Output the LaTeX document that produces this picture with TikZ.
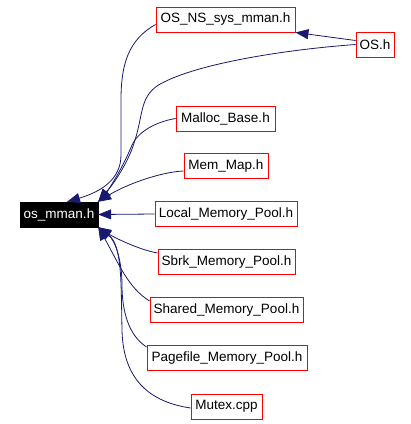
\documentclass[tikz,border=0pt]{standalone}
\usepackage{fontspec}
\setmainfont{Liberation Sans}
\usetikzlibrary{arrows.meta,calc}
\definecolor{edgeblue}{HTML}{191970}
\tikzset{
  filebox/.style={draw=red, line width=0.9pt, fill=white, minimum height=25pt, inner sep=0pt,
    font=\fontsize{13.5}{15}\selectfont, text=black},
  curbox/.style={draw=black, fill=black, minimum height=25pt, inner sep=0pt,
    font=\fontsize{13.5}{15}\selectfont, text=white},
  dep/.style={draw=edgeblue, line width=0.8pt, -{Triangle[length=13pt,width=10pt]}}
}
\begin{document}
\begin{tikzpicture}[x=1pt,y=-1pt]
\useasboundingbox (0,0) rectangle (411,424);
\node[curbox, minimum width=78pt] (m) at (59,214.5) {os\_mman.h};
\node[filebox, minimum width=139pt] (osns) at (225.5,19.5) {OS\_NS\_sys\_mman.h};
\node[filebox, minimum width=38pt] (os) at (375,44.5) {OS.h};
\node[filebox, minimum width=99pt] (malloc) at (225.5,118.5) {Malloc\_Base.h};
\node[filebox, minimum width=84pt] (memmap) at (226,166) {Mem\_Map.h};
\node[filebox, minimum width=142pt] (local) at (226,214) {Local\_Memory\_Pool.h};
\node[filebox, minimum width=137pt] (sbrk) at (226.5,262) {Sbrk\_Memory\_Pool.h};
\node[filebox, minimum width=153pt] (shared) at (226.5,310) {Shared\_Memory\_Pool.h};
\node[filebox, minimum width=160pt] (pagefile) at (227,358) {Pagefile\_Memory\_Pool.h};
\node[filebox, minimum width=71pt] (mutex) at (226.5,406.5) {Mutex.cpp};
% edges
\draw[dep] ($(osns.west)+(0,5)$) .. controls (128,40) and (121,65) .. (121,100)
  -- (121,155) .. controls (121,180) and (100,192) .. ([xshift=8pt]m.north);
\draw[dep] (os.west) .. controls (280,50) and (190,65) .. (157,86)
  .. controls (140,98) and (143,115) .. (135,140)
  .. controls (128,165) and (110,188) .. (m.north east);
\draw[dep] (malloc.west) .. controls (155,122) and (138,132) .. (132,145)
  .. controls (124,165) and (110,188) .. (m.north east);
\draw[dep] ($(memmap.west)+(0,5)$) .. controls (160,172) and (125,185) .. (m.north east);
\draw[dep] (local.west) -- (m.east);
\draw[dep] ($(sbrk.west)+(0,-9)$) .. controls (140,250) and (115,238) .. (m.south east);
\draw[dep] ($(shared.west)+(0,-9)$) .. controls (128,288) and (118,262) .. (m.south east);
\draw[dep] ($(pagefile.west)+(0,-11)$) .. controls (128,335) and (122,310) .. (122,285)
  .. controls (122,260) and (115,240) .. (m.south east);
\draw[dep] ($(mutex.west)+(0,1.5)$) .. controls (150,402) and (123,380) .. (122,330)
  .. controls (121,280) and (122,245) .. (m.south east);
\draw[dep] ($(os.west)+(0,-4)$) -- (osns.south east);
\end{tikzpicture}
\end{document}
